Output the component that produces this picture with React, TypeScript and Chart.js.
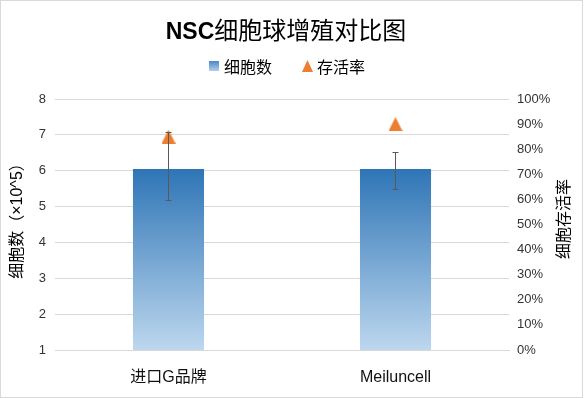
import React, { useEffect, useRef } from 'react';
import { Chart, registerables } from 'chart.js';

Chart.register(...registerables);

const categories = ['进口G品牌', 'Meiluncell'];
const cellCounts = [6.05, 6.05];
const errorHigh = [7.07, 6.53];
const errorLow = [5.18, 5.48];
const survivalRates = [0.85, 0.9];

const leftMin = 1;
const leftMax = 8;
const leftStep = 1;
const rightMin = 0;
const rightMax = 1;
const rightStep = 0.1;

const titleBold = 'NSC';
const titleRest = '细胞球增殖对比图';
const legendBar = '细胞数';
const legendPoint = '存活率';
const leftTitle = '细胞数（×10^5）';
const rightTitle = '细胞存活率';

const LATIN = "'Liberation Sans', Arial";
const CJK = "'Noto Sans CJK SC'";
const FONT = `${LATIN}, ${CJK}, sans-serif`;
const BLUE_TOP = '#2e75b6';
const BLUE_BOTTOM = '#bdd7ee';
const ORANGE = '#ed7d31';
const GRID = '#d9d9d9';

function makeTriangle(w: number, h: number, color: string) {
  const c = document.createElement('canvas');
  c.width = w;
  c.height = h;
  const g = c.getContext('2d')!;
  g.fillStyle = color;
  g.beginPath();
  g.moveTo(w / 2, 0);
  g.lineTo(w, h);
  g.lineTo(0, h);
  g.closePath();
  g.fill();
  return c;
}

const decorPlugin = {
  id: 'decor',
  beforeDraw(chart: any) {
    const ctx = chart.ctx;
    ctx.save();
    ctx.fillStyle = '#ffffff';
    ctx.fillRect(0, 0, chart.width, chart.height);
    ctx.strokeStyle = GRID;
    ctx.lineWidth = 1;
    ctx.strokeRect(0.5, 0.5, chart.width - 2, chart.height - 1);
    ctx.restore();
  },
  afterDatasetsDraw(chart: any) {
    const ctx = chart.ctx;
    const meta = chart.getDatasetMeta(0);
    const y = chart.scales.y;
    ctx.save();
    ctx.strokeStyle = '#595959';
    ctx.lineWidth = 1;
    meta.data.forEach((bar: any, i: number) => {
      const x = Math.floor(bar.x) + 0.5;
      const yt = Math.round(y.getPixelForValue(errorHigh[i])) + 0.5;
      const yb = Math.round(y.getPixelForValue(errorLow[i])) + 0.5;
      ctx.beginPath();
      ctx.moveTo(x, yt);
      ctx.lineTo(x, yb);
      ctx.moveTo(x - 3, yt);
      ctx.lineTo(x + 3, yt);
      ctx.moveTo(x - 3, yb);
      ctx.lineTo(x + 3, yb);
      ctx.stroke();
    });
    ctx.restore();
  },
  afterDraw(chart: any) {
    const ctx = chart.ctx;
    ctx.save();
    // Title
    ctx.fillStyle = '#000000';
    ctx.textBaseline = 'alphabetic';
    ctx.textAlign = 'left';
    const boldFont = `bold 23px ${LATIN}, sans-serif`;
    const restFont = `24px ${CJK}, sans-serif`;
    ctx.font = boldFont;
    const w1 = ctx.measureText(titleBold).width;
    ctx.font = restFont;
    const w2 = ctx.measureText(titleRest).width;
    const cx = 286;
    const startX = cx - (w1 + w2) / 2;
    ctx.font = boldFont;
    ctx.fillText(titleBold, startX, 38.5);
    ctx.font = restFont;
    ctx.fillText(titleRest, startX + w1, 39);

    // Legend
    const g = ctx.createLinearGradient(0, 61, 0, 71);
    g.addColorStop(0, '#4a88c8');
    g.addColorStop(1, '#b3cfeb');
    ctx.fillStyle = g;
    ctx.fillRect(209, 61, 10, 10);
    ctx.font = `16px ${CJK}, sans-serif`;
    ctx.fillStyle = '#000000';
    ctx.textBaseline = 'middle';
    ctx.fillText(legendBar, 224, 66.5);
    ctx.fillStyle = ORANGE;
    ctx.beginPath();
    ctx.moveTo(307.5, 60);
    ctx.lineTo(313, 72);
    ctx.lineTo(302, 72);
    ctx.closePath();
    ctx.fill();
    ctx.fillStyle = '#000000';
    ctx.fillText(legendPoint, 317, 66.5);

    // Axis titles
    ctx.font = `16px ${FONT}`;
    ctx.textAlign = 'center';
    ctx.textBaseline = 'middle';
    ctx.save();
    ctx.translate(17.5, 217);
    ctx.rotate(-Math.PI / 2);
    ctx.fillText(leftTitle, 0, 0);
    ctx.restore();
    ctx.save();
    ctx.translate(563, 219);
    ctx.rotate(-Math.PI / 2);
    ctx.font = `16px ${CJK}, sans-serif`;
    ctx.fillText(rightTitle, 0, 0);
    ctx.restore();
    ctx.restore();
  },
};

export default function App() {
  const ref = useRef<HTMLCanvasElement | null>(null);
  useEffect(() => {
    document.body.style.margin = '0';
    if (!ref.current) return;
    const tri = makeTriangle(14, 14, ORANGE);
    const chart = new Chart(ref.current, {
      type: 'bar',
      data: {
        labels: categories,
        datasets: [
          {
            type: 'bar',
            label: legendBar,
            data: cellCounts,
            yAxisID: 'y',
            order: 1,
            categoryPercentage: 0.313,
            barPercentage: 1,
            backgroundColor: (c: any) => {
              const ch = c.chart;
              const ys = ch.scales.y;
              if (!ch.chartArea || !ys || c.dataIndex === undefined) return '#5b9bd5';
              const top = ys.getPixelForValue(cellCounts[c.dataIndex]);
              const bottom = ys.getPixelForValue(leftMin);
              const gr = ch.ctx.createLinearGradient(0, top, 0, bottom);
              gr.addColorStop(0, BLUE_TOP);
              gr.addColorStop(1, BLUE_BOTTOM);
              return gr;
            },
          } as any,
          {
            type: 'line',
            label: legendPoint,
            data: survivalRates,
            yAxisID: 'y1',
            order: 0,
            showLine: false,
            pointStyle: tri as any,
            pointRadius: 7,
            backgroundColor: ORANGE,
            borderColor: ORANGE,
          } as any,
        ],
      },
      options: {
        responsive: false,
        animation: false,
        layout: { padding: { top: 99, left: 0, right: 0, bottom: 0 } },
        font: { family: FONT } as any,
        plugins: {
          legend: { display: false },
          title: { display: false },
          tooltip: { enabled: false },
        },
        scales: {
          x: {
            grid: { display: false },
            border: { display: true, color: GRID },
            ticks: { font: { size: 16, family: FONT }, color: '#111111', padding: 10 },
            afterFit: (s: any) => {
              s.height = 48;
            },
          },
          y: {
            position: 'left',
            min: leftMin,
            max: leftMax,
            ticks: { stepSize: leftStep, font: { size: 13, family: FONT }, color: '#333333', padding: 9 },
            grid: { color: GRID, drawTicks: false },
            border: { display: false },
            afterFit: (s: any) => {
              s.width = 55;
            },
          },
          y1: {
            position: 'right',
            min: rightMin,
            max: rightMax,
            ticks: {
              stepSize: rightStep,
              font: { size: 13, family: FONT },
              color: '#333333',
              padding: 8,
              callback: (v: any) => Math.round(Number(v) * 100) + '%',
            },
            grid: { display: false, drawTicks: false },
            border: { display: false },
            afterFit: (s: any) => {
              s.width = 75;
            },
          },
        } as any,
      },
      plugins: [decorPlugin],
    });
    return () => chart.destroy();
  }, []);
  return <canvas ref={ref} width={584} height={398} style={{ display: 'block' }} />;
}
